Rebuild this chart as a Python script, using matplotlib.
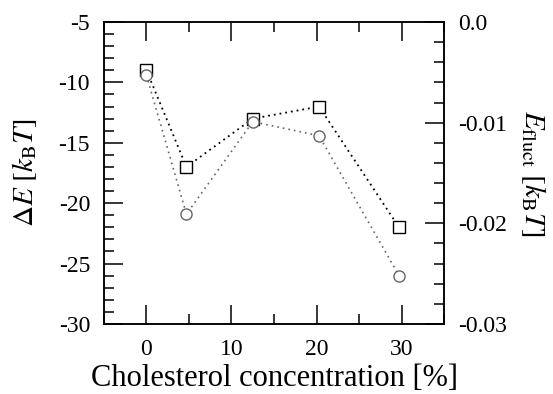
import matplotlib
matplotlib.use("Agg")
import matplotlib.pyplot as plt
from matplotlib.ticker import MultipleLocator, FuncFormatter

plt.rcParams["font.family"] = ["Liberation Serif", "DejaVu Serif"]
plt.rcParams["mathtext.fontset"] = "stix"
plt.rcParams["axes.unicode_minus"] = False

chol = [0, 4.7, 12.5, 20.3, 29.7]
delta_e = [-9.0, -17.0, -13.0, -12.0, -22.0]
e_fluct = [-0.0053, -0.0191, -0.0099, -0.0113, -0.0252]

fig = plt.figure(figsize=(5.53, 3.94), dpi=100)
ax = fig.add_axes([0.188, 0.178, 0.615, 0.766])
ax2 = ax.twinx()

ax.plot(chol, delta_e, color="black", linestyle=(0, (1, 2.2)), linewidth=1.3,
        marker="s", markersize=8, markerfacecolor="white", markeredgecolor="black",
        markeredgewidth=1.0, zorder=3)
ax2.plot(chol, e_fluct, color="#666666", linestyle=(0, (1, 2.4)), linewidth=1.2,
         marker="o", markersize=8, markerfacecolor="white", markeredgecolor="#666666",
         markeredgewidth=1.0, zorder=2)

ax.set_xlim(-5, 35)
ax.set_ylim(-30, -5)
ax2.set_ylim(-0.03, 0.0)

ax.xaxis.set_major_locator(MultipleLocator(10))
ax.xaxis.set_minor_locator(MultipleLocator(5))
ax.yaxis.set_major_locator(MultipleLocator(5))
ax.yaxis.set_minor_locator(MultipleLocator(1))
ax2.yaxis.set_major_locator(MultipleLocator(0.01))
ax2.yaxis.set_minor_locator(MultipleLocator(0.002))
ax2.yaxis.set_major_formatter(FuncFormatter(lambda v, p: "0.0" if abs(v) < 1e-9 else "%.2f" % v))

ax.tick_params(axis="x", which="both", direction="in", top=True, labelsize=17, pad=11)
ax.tick_params(axis="y", which="both", direction="in", right=False, labelsize=17, pad=10)
ax.tick_params(which="major", length=14, width=1.1)
ax.tick_params(which="minor", length=7, width=1.1)
ax2.tick_params(axis="y", which="both", direction="in", labelsize=17, pad=10)
ax2.tick_params(which="major", length=14, width=1.1)
ax2.tick_params(which="minor", length=7, width=1.1)

for a in (ax, ax2):
    for s in a.spines.values():
        s.set_linewidth(1.1)

ax.set_xlabel("Cholesterol concentration [%]", fontsize=22, labelpad=3)
ax.set_ylabel(r"$\Delta E\ [k_\mathrm{B}T]$", fontsize=21, labelpad=14)
ax2.set_ylabel(r"$E_\mathrm{fluct}\ [k_\mathrm{B}T]$", fontsize=21, rotation=270, labelpad=29)

fig.savefig("out.png", dpi=100)
